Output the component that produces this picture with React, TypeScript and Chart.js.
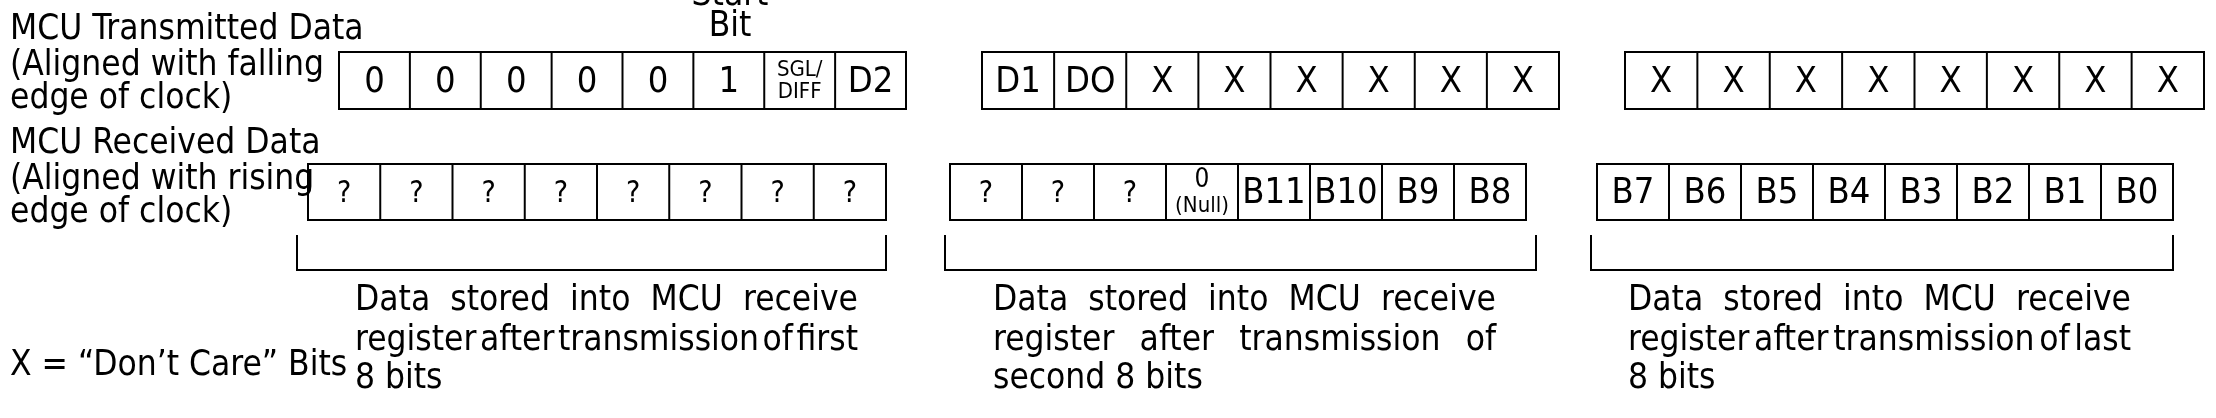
import * as React from 'react';
import { Chart, registerables } from 'chart.js';

Chart.register(...registerables);

// Bit cell contents for each byte
const txBytes = [
    ['0', '0', '0', '0', '0', '1', 'SGL/\nDIFF', 'D2'],
    ['D1', 'DO', 'X', 'X', 'X', 'X', 'X', 'X'],
    ['X', 'X', 'X', 'X', 'X', 'X', 'X', 'X'],
];
const rxBytes = [
    ['?', '?', '?', '?', '?', '?', '?', '?'],
    ['?', '?', '?', '0|(Null)', 'B11', 'B10', 'B9', 'B8'],
    ['B7', 'B6', 'B5', 'B4', 'B3', 'B2', 'B1', 'B0'],
];
const txLabel = ['MCU Transmitted Data', '(Aligned with falling', 'edge of clock)'];
const rxLabel = ['MCU Received Data', '(Aligned with rising', 'edge of clock)'];
const notes = [
    ['Data stored into MCU receive', 'register after transmission of first', '8 bits'],
    ['Data stored into MCU receive', 'register after transmission of', 'second 8 bits'],
    ['Data stored into MCU receive', 'register after transmission of last', '8 bits'],
];
const legendText = 'X = \u201cDon\u2019t Care\u201d Bits';

// layout (page units, same as the scales)
const txX = [[339, 906], [982, 1559], [1625, 2204]];
const rxX = [[308, 886], [950, 1526], [1597, 2173]];
const bracketX = [[297, 886], [945, 1536], [1591, 2173]];
const noteX = [[355, 858], [993, 1496], [1628, 2131]];
const FONT = '"Liberation Sans Narrow", "DejaVu Sans Condensed", "Liberation Sans", sans-serif';

const diagram = {
    id: 'diagram',
    afterDraw(chart: any) {
        const { ctx } = chart;
        const sx = (v: number) => chart.scales.x.getPixelForValue(v);
        const sy = (v: number) => chart.scales.y.getPixelForValue(v);
        const font = (s: number) => `${s}px ${FONT}`;
        ctx.save();
        ctx.fillStyle = '#000';
        ctx.strokeStyle = '#000';
        ctx.lineWidth = 2;
        ctx.textBaseline = 'middle';

        const row = (bytes: string[][], xs: number[][], y0: number, y1: number) => {
            bytes.forEach((cells, g) => {
                const [a, b] = xs[g];
                const w = (b - a) / cells.length;
                ctx.strokeRect(sx(a), sy(y0), sx(b) - sx(a), sy(y1) - sy(y0));
                cells.forEach((c, i) => {
                    const cx = a + w * (i + 0.5);
                    if (i > 0) {
                        ctx.beginPath();
                        ctx.moveTo(sx(a + w * i), sy(y0));
                        ctx.lineTo(sx(a + w * i), sy(y1));
                        ctx.stroke();
                    }
                    ctx.textAlign = 'center';
                    const my = (y0 + y1) / 2;
                    if (c.includes('\n')) {
                        const [l1, l2] = c.split('\n');
                        ctx.font = font(22);
                        ctx.fillText(l1, sx(cx), sy(my - 10));
                        ctx.fillText(l2, sx(cx), sy(my + 12));
                    } else if (c.includes('|')) {
                        const [l1, l2] = c.split('|');
                        ctx.font = font(26);
                        ctx.fillText(l1, sx(cx), sy(my - 12));
                        ctx.font = font(22);
                        ctx.fillText(l2, sx(cx), sy(my + 14));
                    } else {
                        ctx.font = font(c === '?' ? 30 : 36);
                        ctx.fillText(c, sx(cx), sy(my + 2));
                    }
                });
            });
        };
        row(txBytes, txX, 52, 109);
        row(rxBytes, rxX, 164, 220);

        ctx.textAlign = 'left';
        ctx.font = font(35);
        [30, 66, 99].forEach((y, i) => ctx.fillText(txLabel[i], sx(10), sy(y)));
        [144, 180, 213].forEach((y, i) => ctx.fillText(rxLabel[i], sx(10), sy(y)));
        ctx.fillText(legendText, sx(10), sy(366));
        ctx.textAlign = 'center';
        ctx.fillText('Start', sx(730), sy(-4));
        ctx.fillText('Bit', sx(730), sy(27));

        bracketX.forEach(([a, b]) => {
            ctx.beginPath();
            ctx.moveTo(sx(a), sy(235));
            ctx.lineTo(sx(a), sy(270));
            ctx.lineTo(sx(b), sy(270));
            ctx.lineTo(sx(b), sy(235));
            ctx.stroke();
        });

        ctx.textAlign = 'left';
        ctx.font = font(35);
        const ly = [301, 341, 379];
        notes.forEach((lines, g) => {
            const [a, b] = noteX[g];
            lines.forEach((line, i) => {
                const words = line.split(' ');
                const justify = i < lines.length - 1 && words.length > 1;
                if (!justify) {
                    ctx.fillText(line, sx(a), sy(ly[i]));
                    return;
                }
                const total = words.reduce((s, wd) => s + ctx.measureText(wd).width, 0);
                const gap = (sx(b) - sx(a) - total) / (words.length - 1);
                let x = sx(a);
                words.forEach((wd) => {
                    ctx.fillText(wd, x, sy(ly[i]));
                    x += ctx.measureText(wd).width + gap;
                });
            });
        });
        ctx.restore();
    },
};

export default function App() {
    const ref = React.useRef<HTMLCanvasElement | null>(null);

    React.useEffect(() => {
        if (!ref.current) return;
        const chart = new Chart(ref.current, {
            type: 'scatter',
            data: { datasets: [{ data: [], pointRadius: 0 }] },
            options: {
                animation: false,
                responsive: false,
                devicePixelRatio: 1,
                layout: { padding: 0 },
                plugins: { legend: { display: false }, tooltip: { enabled: false } },
                scales: {
                    x: { type: 'linear', min: 0, max: 2216, display: false },
                    y: { type: 'linear', min: 0, max: 418, reverse: true, display: false },
                },
            },
            plugins: [diagram],
        });
        return () => chart.destroy();
    }, []);

    return (
        <div style={{ position: 'fixed', left: 0, top: 0, width: 2216, height: 418, background: '#fff' }}>
            <canvas ref={ref} width={2216} height={418} />
        </div>
    );
}
